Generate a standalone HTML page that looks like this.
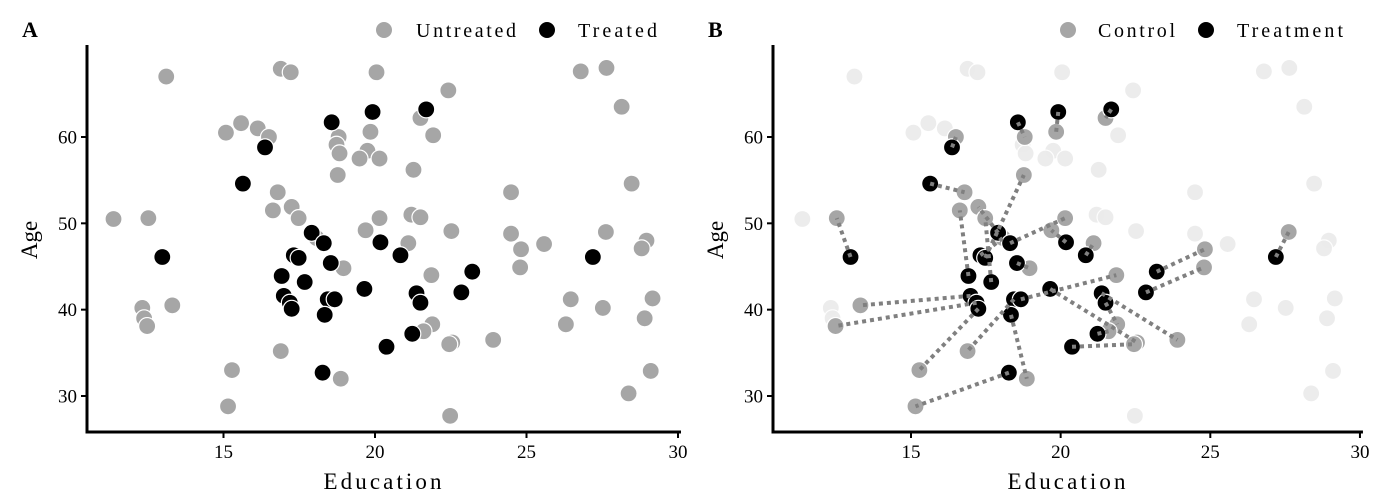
<!DOCTYPE html>
<html><head><meta charset="utf-8"><style>
body{margin:0;background:#fff}
svg{display:block;font-family:"Liberation Serif",serif}
</style></head><body>
<svg id="c" width="1384" height="501"></svg>
<script>
const untreatedEdu=[11.37,12.52,13.11,12.32,12.38,12.48,13.31,15.08,15.58,16.13,16.50,16.89,17.22,20.05,18.80,18.73,18.83,19.85,19.75,19.49,20.15,18.77,16.79,16.63,17.25,17.48,20.15,19.69,18.07,18.96,16.89,15.28,15.15,18.87,26.79,27.64,22.42,28.14,21.50,21.92,21.27,24.49,28.47,21.20,21.50,22.52,24.49,24.82,25.58,21.10,24.79,27.62,28.96,28.80,21.86,26.46,27.52,26.30,29.16,28.90,21.89,21.60,22.55,22.45,23.90,29.10,28.37,22.48];
const untreatedAge=[50.5,50.6,67.0,40.2,39.0,38.1,40.5,60.5,61.6,61.0,60.0,67.9,67.5,67.5,60.0,59.1,58.1,60.6,58.4,57.5,57.5,55.6,53.6,51.5,51.9,50.6,50.6,49.2,48.3,44.8,35.2,33.0,28.8,32.0,67.6,68.0,65.4,63.5,62.2,60.2,56.2,53.6,54.6,51.0,50.7,49.1,48.8,47.0,47.6,47.7,44.9,49.0,48.0,47.1,44.0,41.2,40.2,38.3,41.3,39.0,38.3,37.5,36.2,36.0,36.5,32.9,30.3,27.7];
const treatedEdu=[19.92,18.57,21.69,16.37,15.64,12.98,17.91,18.31,17.32,17.48,18.54,20.18,20.84,16.92,17.68,16.99,17.19,17.25,18.44,18.67,19.65,18.34,20.38,18.27,27.19,23.21,21.37,21.50,22.85,21.23];
const treatedAge=[62.9,61.7,63.2,58.8,54.6,46.1,48.9,47.7,46.3,46.0,45.4,47.8,46.3,43.9,43.2,41.6,40.8,40.1,41.2,41.2,42.4,39.4,35.7,32.7,46.1,44.4,41.9,40.8,42.0,37.2];
const controlEdu=[19.85,18.80,21.50,16.50,16.79,12.52,17.25,20.15,18.07,18.77,18.96,19.69,21.10,16.63,17.48,13.31,12.48,15.28,16.89,21.86,22.55,18.87,22.45,15.15,27.62,24.82,23.90,21.89,24.79,21.60];
const controlAge=[60.6,60.0,62.2,60.0,53.6,50.6,51.9,50.6,48.3,55.6,44.8,49.2,47.7,51.5,50.6,40.5,38.1,33.0,35.2,44.0,36.2,32.0,36.0,28.8,49.0,47.0,36.5,38.3,44.9,37.5];
const xTicks=[15,20,25,30], yTicks=[30,40,50,60];

const NS="http://www.w3.org/2000/svg", svg=document.getElementById('c');
function mk(t,a,p){const e=document.createElementNS(NS,t);for(const k in a)e.setAttribute(k,a[k]);(p||svg).appendChild(e);return e;}
const yS=v=>137+(60-v)*8.633;
function panel(ox,x15,ux,letter,l1,l2,c1x,t1x,w1,c2x,t2x,w2){
  const xS=v=>x15+(v-15)*ux;
  const g=mk('g',{});
  
  
  const ax=mk('path',{d:`M${ox} 45V433.5M${ox-1.5} 432H${x15+15*ux+3}`,stroke:'#000','stroke-width':3,fill:'none'},g);
  
  xTicks.forEach(t=>{const x=xS(t);mk('line',{x1:x,x2:x,y1:432,y2:438,stroke:'#000','stroke-width':2},g);
    const tx=mk('text',{x:x,y:458,'text-anchor':'middle','font-size':19},g);tx.textContent=t;
    });
  yTicks.forEach(t=>{const y=yS(t);mk('line',{x1:ox-6,x2:ox,y1:y,y2:y,stroke:'#000','stroke-width':2},g);
    const tx=mk('text',{x:ox-10,y:y+6.5,'text-anchor':'end','font-size':19},g);tx.textContent=t;
    });
  const xl=mk('text',{x:(ox+x15+15*ux)/2,y:489,'text-anchor':'middle','font-size':23,textLength:118},g);xl.textContent='Education';
  
  const yl=mk('text',{x:0,y:0,'text-anchor':'middle','font-size':23,transform:`translate(${ox-50},240) rotate(-90)`},g);yl.textContent='Age';
  
  const pl=mk('text',{x:ox-65,y:37,'font-size':22,'font-weight':'bold'},g);pl.textContent=letter;
  
  const c1=mk('circle',{cx:c1x,cy:30,r:8,fill:'#a6a6a6'},g);
  const t1=mk('text',{x:t1x,y:37,'font-size':20,textLength:w1},g);t1.textContent=l1;
  const c2=mk('circle',{cx:c2x,cy:30,r:8,fill:'#000'},g);
  const t2=mk('text',{x:t2x,y:37,'font-size':20,textLength:w2},g);t2.textContent=l2;
  return {g,xS};
}
function dot(g,x,y,f,name,op){const c=mk('circle',{cx:x,cy:y,r:8.5,fill:f,stroke:'#fff','stroke-width':1.2,opacity:op||1},g);
  
  }
// Panel A
const A=panel(87,223.5,30.3,'A','Untreated','Treated',384,416,100,547,578,79);
untreatedEdu.forEach((e,i)=>dot(A.g,A.xS(e),yS(untreatedAge[i]),'#a6a6a6','untreated-point'));
treatedEdu.forEach((e,i)=>dot(A.g,A.xS(e),yS(treatedAge[i]),'#000','treated-point'));
// Panel B
const B=panel(773,911,29.93,'B','Control','Treatment',1068,1098,77,1206,1237,106);
untreatedEdu.forEach((e,i)=>dot(B.g,B.xS(e),yS(untreatedAge[i]),'#ebebeb','unmatched-point',0.9));
controlEdu.forEach((e,i)=>dot(B.g,B.xS(e),yS(controlAge[i]),'#a6a6a6','control-point'));
treatedEdu.forEach((e,i)=>dot(B.g,B.xS(e),yS(treatedAge[i]),'#000','treatment-point'));
controlEdu.forEach((e,i)=>{const l=mk('line',{x1:B.xS(treatedEdu[i]),y1:yS(treatedAge[i]),x2:B.xS(e),y2:yS(controlAge[i]),stroke:'#808080','stroke-width':4,'stroke-dasharray':'4 4'},B.g);
  
  });
</script>
</body></html>
